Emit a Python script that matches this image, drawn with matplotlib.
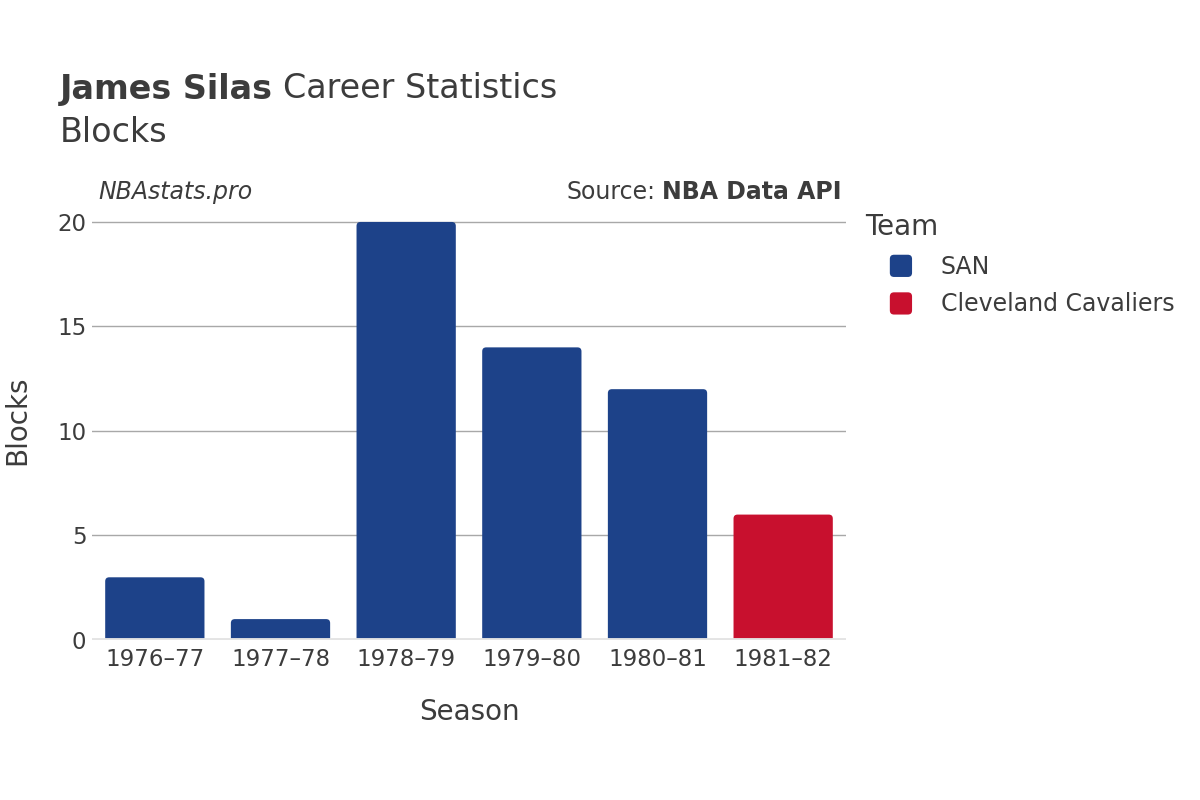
import matplotlib.pyplot as plt
from matplotlib.patches import FancyBboxPatch
from matplotlib.legend_handler import HandlerPatch
from matplotlib.patches import Patch

seasons = ['1976–77', '1977–78', '1978–79', '1979–80', '1980–81', '1981–82']
blocks = [3, 1, 20, 14, 12, 6]
teams = ['SAN', 'SAN', 'SAN', 'SAN', 'SAN', 'Cleveland Cavaliers']
team_names = ['SAN', 'Cleveland Cavaliers']
team_colors = {'SAN': '#1d4289', 'Cleveland Cavaliers': '#c8102e'}

text_color = '#3c3c3c'
plt.rcParams['font.family'] = 'DejaVu Sans'

fig = plt.figure(figsize=(12, 8), dpi=100)
ax = fig.add_axes([92 / 1200, 160 / 800, 754 / 1200, 428.5 / 800])

x = list(range(len(seasons)))
ax.set_xlim(-0.5, len(seasons) - 0.5)
ax.set_ylim(0, 20.5)

# rounded bars: radius ~4px in both directions
width = 0.79
rx = 4 / (754 / 6)
ry = 4 / (428.5 / 20.5)
for xi, val, team in zip(x, blocks, teams):
    bar = FancyBboxPatch((xi - width / 2, -ry), width, val + ry,
                         boxstyle=f"round,pad=0,rounding_size={rx}",
                         mutation_aspect=ry / rx,
                         facecolor=team_colors[team], edgecolor='none', zorder=3)
    ax.add_patch(bar)

ax.set_yticks([0, 5, 10, 15, 20])
ax.grid(axis='y', color='#a8a8a8', linewidth=1, zorder=0)
ax.axhline(0, color='#e4e4e4', linewidth=3.5, zorder=4)
for s in ax.spines.values():
    s.set_visible(False)
ax.set_xticks(x)
ax.set_xticklabels(seasons)
ax.tick_params(axis='both', length=0, labelsize=16.5, colors=text_color)
ax.tick_params(axis='x', pad=6)
ax.tick_params(axis='y', pad=4)

fig.text(469 / 1200, 1 - 712 / 800, 'Season', ha='center', va='center',
         fontsize=20, color=text_color)
fig.text(17 / 1200, 1 - 420 / 800, 'Blocks', ha='center', va='center',
         rotation=90, fontsize=20, color=text_color)

# title
t1 = fig.text(60 / 1200, 1 - 89 / 800, 'James Silas', ha='left', va='center',
              fontsize=24, fontweight='bold', color=text_color)
fig.canvas.draw()
bb = t1.get_window_extent()
fig.text(bb.x1 / 1200 + 0.008, 1 - 89 / 800, 'Career Statistics', ha='left', va='center',
         fontsize=24, color=text_color)
fig.text(60 / 1200, 1 - 132 / 800, 'Blocks', ha='left', va='center',
         fontsize=24, color=text_color)

fig.text(98 / 1200, 1 - 192 / 800, 'NBAstats.pro', ha='left', va='center',
         fontsize=17, style='italic', color=text_color)
t2 = fig.text(842 / 1200, 1 - 192 / 800, 'NBA Data API', ha='right', va='center',
              fontsize=17, fontweight='bold', color=text_color)
fig.canvas.draw()
bb2 = t2.get_window_extent()
fig.text(bb2.x0 / 1200 - 0.006, 1 - 192 / 800, 'Source:', ha='right', va='center',
         fontsize=17, color=text_color)


class RoundHandler(HandlerPatch):
    def create_artists(self, legend, orig_handle, xdescent, ydescent,
                       width, height, fontsize, trans):
        size = 16
        cx = -xdescent + width / 2 + 7
        cy = -ydescent + height / 2
        p = FancyBboxPatch((cx - size / 2, cy - size / 2),
                           size, size, boxstyle="round,pad=0,rounding_size=3",
                           facecolor=orig_handle.get_facecolor(), edgecolor='none',
                           transform=trans)
        return [p]


handles = [Patch(facecolor=team_colors[t]) for t in team_names]
leg = fig.legend(handles, team_names, loc='upper left',
                 bbox_to_anchor=(844 / 1200, 1 - 192 / 800),
                 frameon=False, fontsize=17, title='Team', title_fontsize=20,
                 handler_map={Patch: RoundHandler()}, handlelength=2.2,
                 handleheight=1.2, handletextpad=1.0, labelspacing=0.53,
                 alignment='left', labelcolor=text_color)
leg._legend_box.sep = 9
leg.get_title().set_color(text_color)

fig.savefig('out.png', dpi=100)
